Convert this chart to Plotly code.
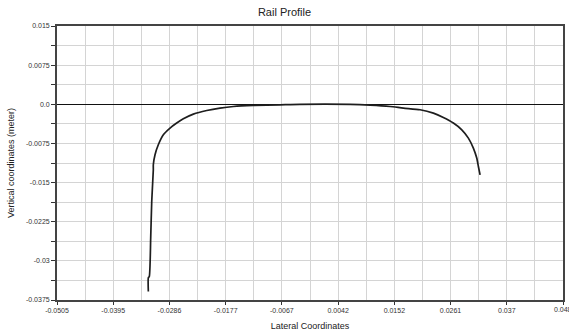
import plotly.graph_objects as go

# Profile points (lateral, vertical) in meters
lateral = [-0.03272, -0.03272, -0.03253, -0.03226, -0.03206, -0.03175, -0.03175, -0.03142,
           -0.03078, -0.02980, -0.02850, -0.02720, -0.02591, -0.02396, -0.02135, -0.01877,
           -0.01617, -0.01228, -0.00708, -0.00320, 0.00655, 0.01044, 0.01434, 0.01693,
           0.02018, 0.02277, 0.02471, 0.02666, 0.02830, 0.02958, 0.03055, 0.03121,
           0.03153, 0.03186]
vertical = [-0.03587, -0.03324, -0.03299, -0.02564, -0.01862, -0.01255, -0.01159, -0.00968,
            -0.00776, -0.00584, -0.00456, -0.00360, -0.00278, -0.00188, -0.00119, -0.00073,
            -0.00042, -0.00022, -0.00010, 0.0, 0.0, -0.00015, -0.00042, -0.00073,
            -0.00105, -0.00169, -0.00253, -0.00360, -0.00489, -0.00648, -0.00839, -0.01031,
            -0.01192, -0.01351]

x_tick_labels = ["-0.0505", "-0.0395", "-0.0286", "-0.0177", "-0.0067",
                 "0.0042", "0.0152", "0.0261", "0.037", "0.048"]
y_tick_labels = ["0.015", "0.0075", "0.0", "-0.0075", "-0.015", "-0.0225", "-0.03", "-0.0375"]

x_min, x_max = -0.0505, 0.048
y_min, y_max = -0.0375, 0.015
x_step = (x_max - x_min) / (len(x_tick_labels) - 1)
x_tickvals = [x_min + i * x_step for i in range(len(x_tick_labels))]
y_tickvals = [float(t) for t in y_tick_labels]
x_minor = [x_min + (i + 0.5) * x_step for i in range(len(x_tick_labels) - 1)]
y_minor = [y_min + (i + 0.5) * 0.0075 for i in range(len(y_tick_labels) - 1)]

fig = go.Figure()
fig.add_trace(go.Scatter(x=lateral, y=vertical, mode="lines", line_shape="spline",
                         line=dict(color="#1e1e1e", width=1.7, smoothing=0.6),
                         showlegend=False))

tickfont = dict(family="Arial", size=7, color="#333333")
fig.update_layout(
    width=569, height=331,
    margin=dict(l=57, r=6, t=26, b=31),
    paper_bgcolor="white", plot_bgcolor="white",
    title=dict(text="Rail Profile", x=0.5, xanchor="center", y=0.962, yanchor="middle",
               font=dict(family="Arial", size=11, color="#222222")),
    xaxis=dict(range=[x_min, x_max], tickmode="array", tickvals=x_tickvals,
               ticktext=x_tick_labels, tickfont=tickfont, ticks="outside", ticklen=3,
               tickcolor="#333333", showgrid=True, gridcolor="#d4d4d4", gridwidth=1,
               minor=dict(tickvals=x_minor, showgrid=True, gridcolor="#d4d4d4", ticks=""),
               showline=True, linecolor="#444444", linewidth=1.8, mirror=True,
               zeroline=False, automargin=False,
               title=dict(text="Lateral Coordinates", standoff=9,
                          font=dict(family="Arial", size=9, color="#222222"))),
    yaxis=dict(range=[y_min, y_max], tickmode="array", tickvals=y_tickvals,
               ticktext=y_tick_labels, tickfont=tickfont, ticks="outside", ticklen=4,
               tickcolor="#333333", showgrid=True, gridcolor="#d4d4d4", gridwidth=1,
               minor=dict(tickvals=y_minor, showgrid=True, gridcolor="#d4d4d4",
                          ticks="outside", ticklen=4, tickcolor="#333333"),
               showline=True, linecolor="#444444", linewidth=1.8, mirror=True,
               zeroline=True, zerolinecolor="#111111", zerolinewidth=1.2, automargin=False,
               title=dict(text="Vertical coordinates (meter)", standoff=10,
                          font=dict(family="Arial", size=9, color="#222222"))),
)

# last x tick label, which the axis drops because it runs past the page edge
fig.add_annotation(x=x_tickvals[-1], xref="x", y=0, yref="paper", yanchor="top",
                   yshift=-4, text=x_tick_labels[-1], showarrow=False, font=tickfont)

fig.write_html("out.html")
